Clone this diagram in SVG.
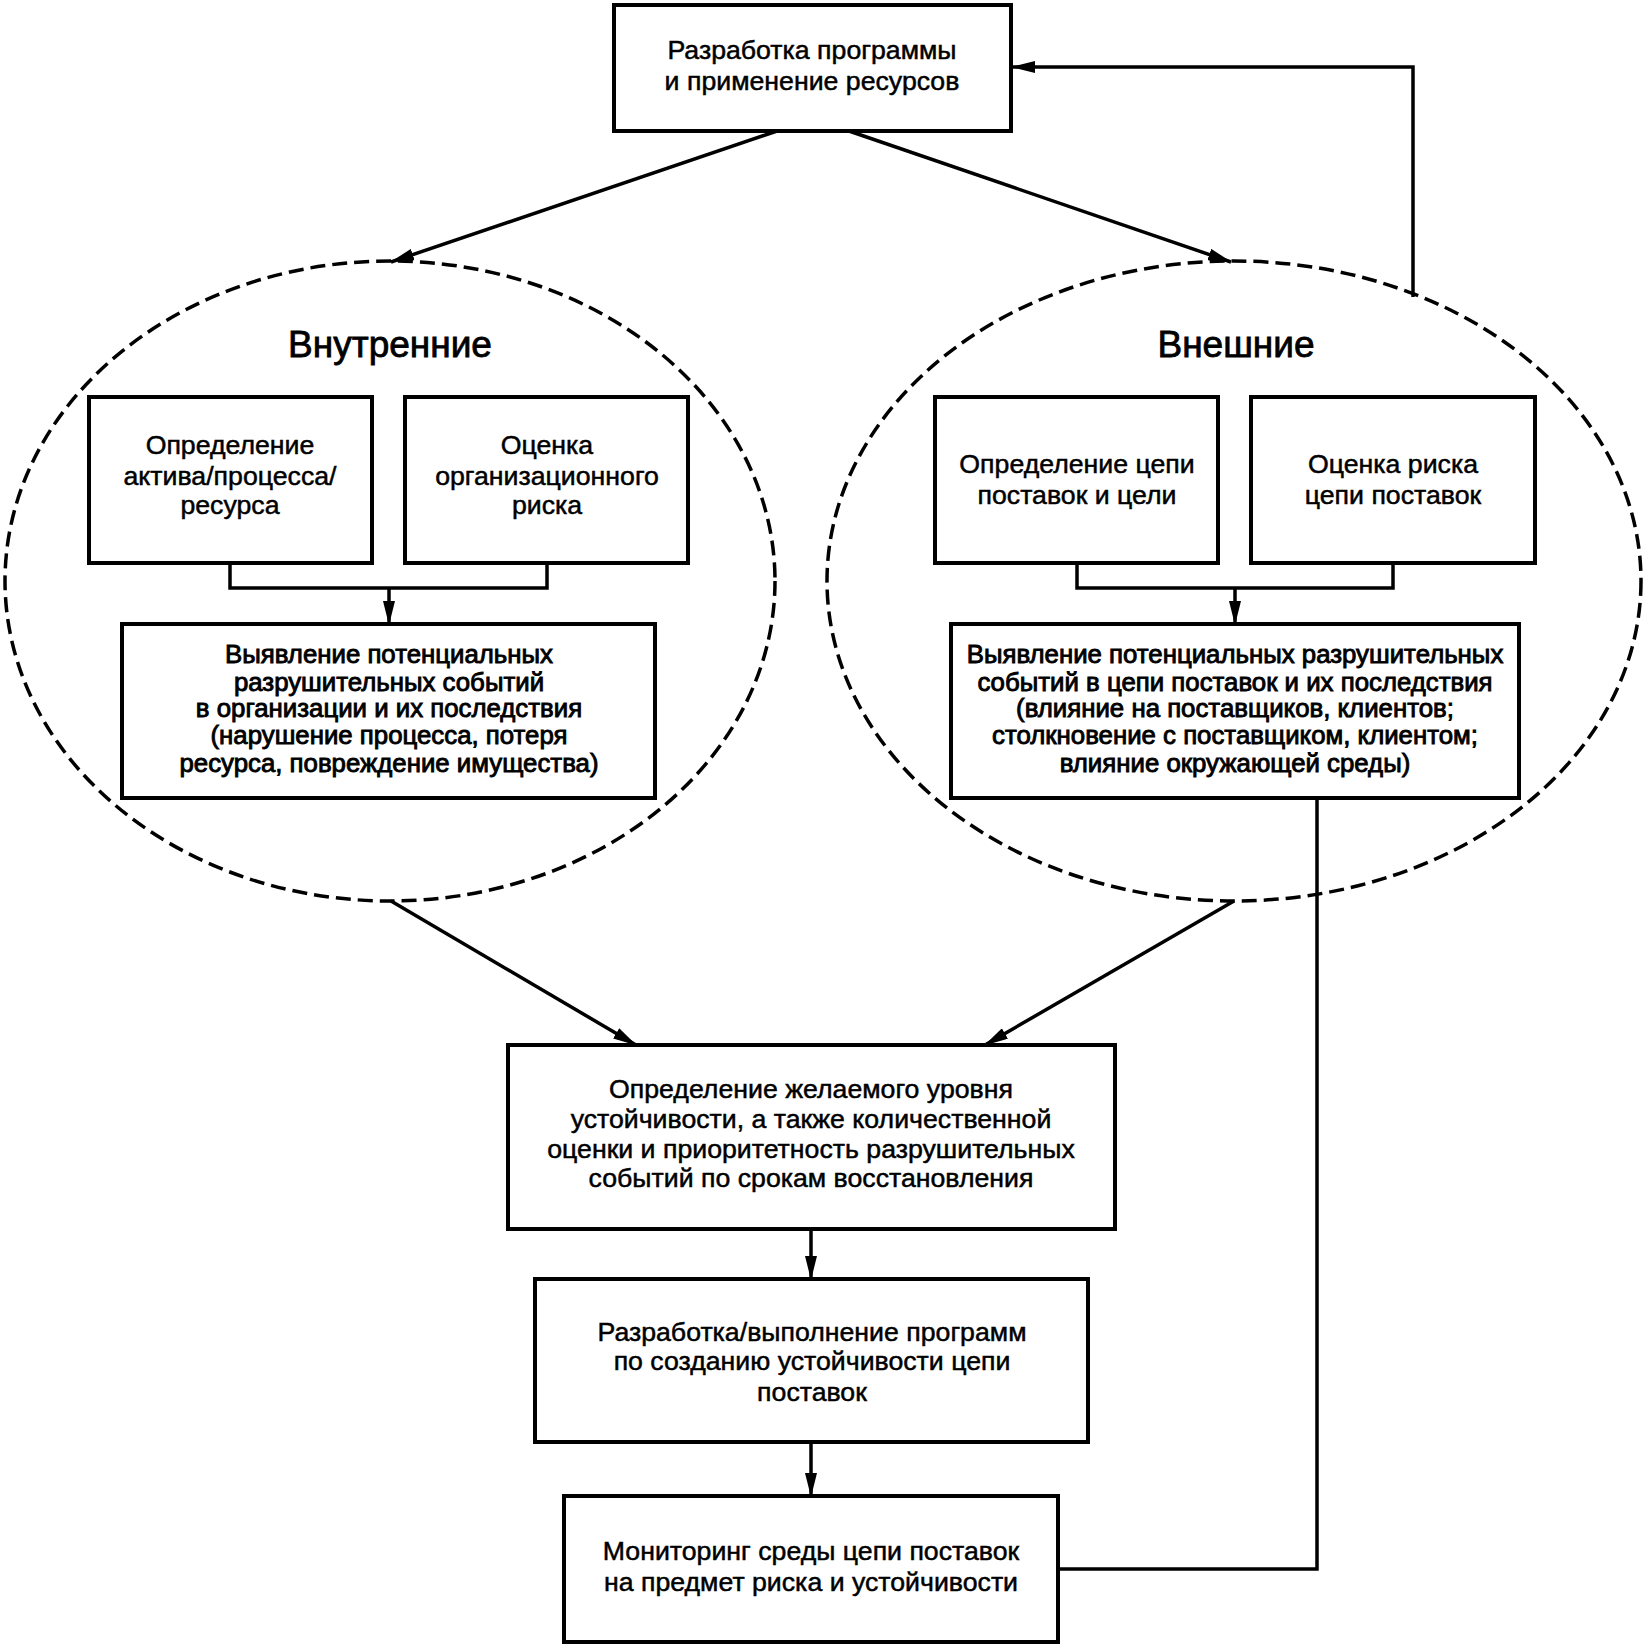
<svg xmlns="http://www.w3.org/2000/svg" width="1647" height="1646" viewBox="0 0 1647 1646">
<style>
.box{fill:#fff;stroke:#000;stroke-width:4}
.ell{fill:none;stroke:#000;stroke-width:3.5;stroke-dasharray:15 7}
.ln{fill:none;stroke:#000;stroke-width:3.5}
text{font-family:"Liberation Sans",Arial,sans-serif;font-size:26.7px;fill:#000;text-anchor:middle;stroke:#000;stroke-width:0.5}
.big{font-size:37px;stroke-width:0.8}
.sm{font-size:25.8px;stroke-width:0.9}
</style>
<defs>
<marker id="ah" markerWidth="24" markerHeight="12" refX="23" refY="6" orient="auto" markerUnits="userSpaceOnUse">
<path d="M0,0 L24,6 L0,12 Z" fill="#000"/>
</marker>
</defs>
<rect width="1647" height="1646" fill="#fff"/>
<g id="ellipse-internal"><ellipse class="ell" cx="390" cy="581" rx="385" ry="320"/><text class="big" x="390" y="357">Внутренние</text></g>
<g id="ellipse-external"><ellipse class="ell" cx="1234" cy="581" rx="407" ry="320"/><text class="big" x="1236" y="357">Внешние</text></g>
<g id="connectors">
<line class="ln" x1="777" y1="131" x2="391" y2="262" marker-end="url(#ah)"/>
<line class="ln" x1="849" y1="131" x2="1231" y2="262" marker-end="url(#ah)"/>
<polyline class="ln" points="1413,297 1413,67 1012,67" marker-end="url(#ah)"/>
<polyline class="ln" points="230,563 230,588 547,588 547,563"/>
<line class="ln" x1="389" y1="588" x2="389" y2="624" marker-end="url(#ah)"/>
<polyline class="ln" points="1077,563 1077,588 1393,588 1393,563"/>
<line class="ln" x1="1235" y1="588" x2="1235" y2="624" marker-end="url(#ah)"/>
<line class="ln" x1="391" y1="901" x2="636" y2="1045" marker-end="url(#ah)"/>
<line class="ln" x1="1234" y1="901" x2="985" y2="1045" marker-end="url(#ah)"/>
<line class="ln" x1="811" y1="1229" x2="811" y2="1279" marker-end="url(#ah)"/>
<line class="ln" x1="811" y1="1442" x2="811" y2="1496" marker-end="url(#ah)"/>
<polyline class="ln" points="1317,798 1317,1569 1058,1569"/>
</g>
<g id="node-top"><rect class="box" x="614" y="5" width="397" height="126"/><text x="812" y="59">Разработка программы</text><text x="812" y="90">и применение ресурсов</text></g>
<g id="node-asset"><rect class="box" x="89" y="397" width="283" height="166"/><text x="230" y="454">Определение</text><text x="230" y="485">актива/процесса/</text><text x="230" y="514">ресурса</text></g>
<g id="node-orgrisk"><rect class="box" x="405" y="397" width="283" height="166"/><text x="547" y="454">Оценка</text><text x="547" y="485">организационного</text><text x="547" y="514">риска</text></g>
<g id="node-internal-events"><rect class="box" x="122" y="624" width="533" height="174"/>
<text class="sm" x="389" y="663">Выявление потенциальных</text>
<text class="sm" x="389" y="691">разрушительных событий</text>
<text class="sm" x="389" y="717">в организации и их последствия</text>
<text class="sm" x="389" y="744">(нарушение процесса, потеря</text>
<text class="sm" x="389" y="772">ресурса, повреждение имущества)</text></g>
<g id="node-supplychain"><rect class="box" x="935" y="397" width="283" height="166"/><text x="1077" y="473">Определение цепи</text><text x="1077" y="504">поставок и цели</text></g>
<g id="node-scrisk"><rect class="box" x="1251" y="397" width="284" height="166"/><text x="1393" y="473">Оценка риска</text><text x="1393" y="504">цепи поставок</text></g>
<g id="node-external-events"><rect class="box" x="951" y="624" width="568" height="174"/>
<text class="sm" x="1235" y="663">Выявление потенциальных разрушительных</text>
<text class="sm" x="1235" y="691">событий в цепи поставок и их последствия</text>
<text class="sm" x="1235" y="717">(влияние на поставщиков, клиентов;</text>
<text class="sm" x="1235" y="744">столкновение с поставщиком, клиентом;</text>
<text class="sm" x="1235" y="772">влияние окружающей среды)</text></g>
<g id="node-level"><rect class="box" x="508" y="1045" width="607" height="184"/>
<text x="811" y="1098">Определение желаемого уровня</text>
<text x="811" y="1128">устойчивости, а также количественной</text>
<text x="811" y="1158">оценки и приоритетность разрушительных</text>
<text x="811" y="1187">событий по срокам восстановления</text></g>
<g id="node-program"><rect class="box" x="535" y="1279" width="553" height="163"/>
<text x="812" y="1341">Разработка/выполнение программ</text>
<text x="812" y="1370">по созданию устойчивости цепи</text>
<text x="812" y="1401">поставок</text></g>
<g id="node-monitor"><rect class="box" x="564" y="1496" width="494" height="146"/>
<text x="811" y="1560">Мониторинг среды цепи поставок</text>
<text x="811" y="1591">на предмет риска и устойчивости</text></g>
</svg>
